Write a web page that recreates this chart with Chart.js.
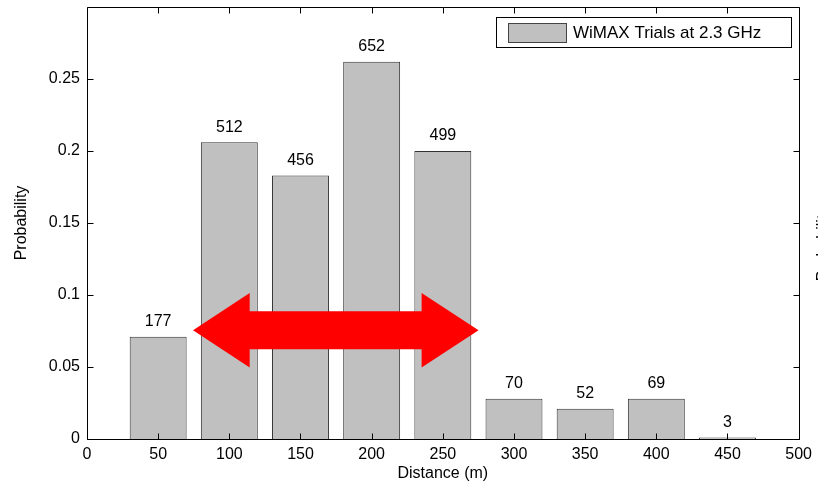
<!DOCTYPE html>
<html>
<head>
<meta charset="utf-8">
<script src="https://cdn.jsdelivr.net/npm/chart.js@4"></script>
<style>
  html, body { margin: 0; padding: 0; background: #fff; }
  #wrap { width: 818px; height: 485px; }
</style>
</head>
<body>
<div id="wrap"><canvas id="probChart" width="818" height="485"></canvas></div>
<script>
const distances = [50, 100, 150, 200, 250, 300, 350, 400, 450]; // m
const counts = [177, 512, 456, 652, 499, 70, 52, 69, 3];
const probability = [0.071, 0.206, 0.183, 0.262, 0.200, 0.028, 0.021, 0.028, 0.001];
const yTicks = [0, 0.05, 0.1, 0.15, 0.2, 0.25];
const seriesLabel = 'WiMAX Trials at 2.3 GHz';

// red double arrow, in data units
const arrowX = [74.5, 114.3, 235.1, 275.1];  // left tip, left head base, right head base, right tip
const arrowY = 0.0755;
const arrowHead = 0.0259;
const arrowShaft = 0.0132;

const FONT = 'Liberation Sans, Arial, sans-serif';
Chart.defaults.font.family = FONT;
Chart.defaults.font.size = 16;
Chart.defaults.color = '#000';

const matlabLook = {
    id: 'matlabLook',
    afterDatasetsDraw(chart) {
        const ctx = chart.ctx;
        const xs = chart.scales.x, ys = chart.scales.y;
        const area = chart.chartArea;

        // arrow
        const px = v => xs.getPixelForValue(v);
        const py = v => ys.getPixelForValue(v);
        const pts = [
            [arrowX[0], arrowY],
            [arrowX[1], arrowY + arrowHead],
            [arrowX[1], arrowY + arrowShaft],
            [arrowX[2], arrowY + arrowShaft],
            [arrowX[2], arrowY + arrowHead],
            [arrowX[3], arrowY],
            [arrowX[2], arrowY - arrowHead],
            [arrowX[2], arrowY - arrowShaft],
            [arrowX[1], arrowY - arrowShaft],
            [arrowX[1], arrowY - arrowHead]
        ];
        ctx.save();
        ctx.fillStyle = '#ff0000';
        ctx.beginPath();
        pts.forEach((p, i) => {
            if (i === 0) ctx.moveTo(px(p[0]), py(p[1]));
            else ctx.lineTo(px(p[0]), py(p[1]));
        });
        ctx.closePath();
        ctx.fill();

        // count labels above bars
        ctx.fillStyle = '#000';
        ctx.font = '16px ' + FONT;
        ctx.textAlign = 'center';
        ctx.textBaseline = 'middle';
        chart.getDatasetMeta(0).data.forEach((bar, i) => {
            ctx.fillText(String(counts[i]), bar.x, bar.y - 15);
        });

        // frame and inward ticks
        ctx.strokeStyle = '#000';
        ctx.lineWidth = 1;
        const L = Math.round(area.left) + 0.5, R = Math.round(area.right) + 0.5;
        const T = Math.round(area.top) + 0.5, B = Math.round(area.bottom) + 0.5;
        ctx.beginPath();
        ctx.rect(L, T, R - L, B - T);
        const tl = 6;
        xs.ticks.forEach(t => {
            const x = Math.round(xs.getPixelForValue(t.value)) + 0.5;
            ctx.moveTo(x, B); ctx.lineTo(x, B - tl);
            ctx.moveTo(x, T); ctx.lineTo(x, T + tl);
        });
        yTicks.forEach(v => {
            const y = Math.round(ys.getPixelForValue(v)) + 0.5;
            ctx.moveTo(L, y); ctx.lineTo(L + tl, y);
            ctx.moveTo(R, y); ctx.lineTo(R - tl, y);
        });
        ctx.stroke();

        // legend box
        const lx = 496.5, ly = 17.5, lw = 295, lh = 30;
        ctx.fillStyle = '#fff';
        ctx.fillRect(lx, ly, lw, lh);
        ctx.strokeRect(lx, ly, lw, lh);
        ctx.fillStyle = '#c0c0c0';
        ctx.fillRect(508.5, 23.5, 58, 19);
        ctx.strokeStyle = '#444';
        ctx.strokeRect(508.5, 23.5, 58, 19);
        ctx.fillStyle = '#000';
        ctx.textAlign = 'left';
        ctx.textBaseline = 'middle';
        ctx.font = '17px ' + FONT;
        ctx.fillText(chart.data.datasets[0].label, 573, 33.5);

        // clipped right-hand axis title
        ctx.save();
        ctx.translate(816, 244);
        ctx.rotate(-Math.PI / 2);
        ctx.textAlign = 'center';
        ctx.textBaseline = 'top';
        ctx.font = '16px ' + FONT;
        ctx.fillText('Probability', 0, 0);
        ctx.restore();
        ctx.restore();
    }
};

new Chart(document.getElementById('probChart').getContext('2d'), {
    type: 'bar',
    data: {
        datasets: [{
            label: seriesLabel,
            data: distances.map((d, i) => ({ x: d, y: probability[i] })),
            backgroundColor: '#c0c0c0',
            borderColor: '#333333',
            borderWidth: 1,
            barPercentage: 0.8,
            categoryPercentage: 1.0
        }]
    },
    options: {
        responsive: false,
        animation: false,
        layout: { padding: { top: 7, right: 18, left: 0, bottom: 0 } },
        plugins: {
            legend: { display: false },
            tooltip: { enabled: false }
        },
        scales: {
            x: {
                type: 'linear',
                min: 0,
                max: 500,
                offset: false,
                grid: { display: false, drawTicks: false, offset: false },
                border: { display: false },
                ticks: { stepSize: 50, padding: 6, maxRotation: 0 },
                title: { display: true, text: 'Distance (m)', padding: { top: 2, bottom: 2 } },
                afterFit(scale) { scale.height = 46; }
            },
            y: {
                min: 0,
                max: 0.3,
                grid: { display: false, drawTicks: false },
                border: { display: false },
                ticks: {
                    stepSize: 0.05,
                    padding: 7,
                    callback: v => (yTicks.some(t => Math.abs(t - v) < 1e-9) ? String(+v.toFixed(2)) : null)
                },
                title: { display: true, text: 'Probability', padding: { top: 12, bottom: 0 } },
                afterFit(scale) { scale.width = 87; scale.paddingTop = 0; scale.paddingBottom = 0; }
            }
        }
    },
    plugins: [matlabLook]
});
</script>
</body>
</html>
